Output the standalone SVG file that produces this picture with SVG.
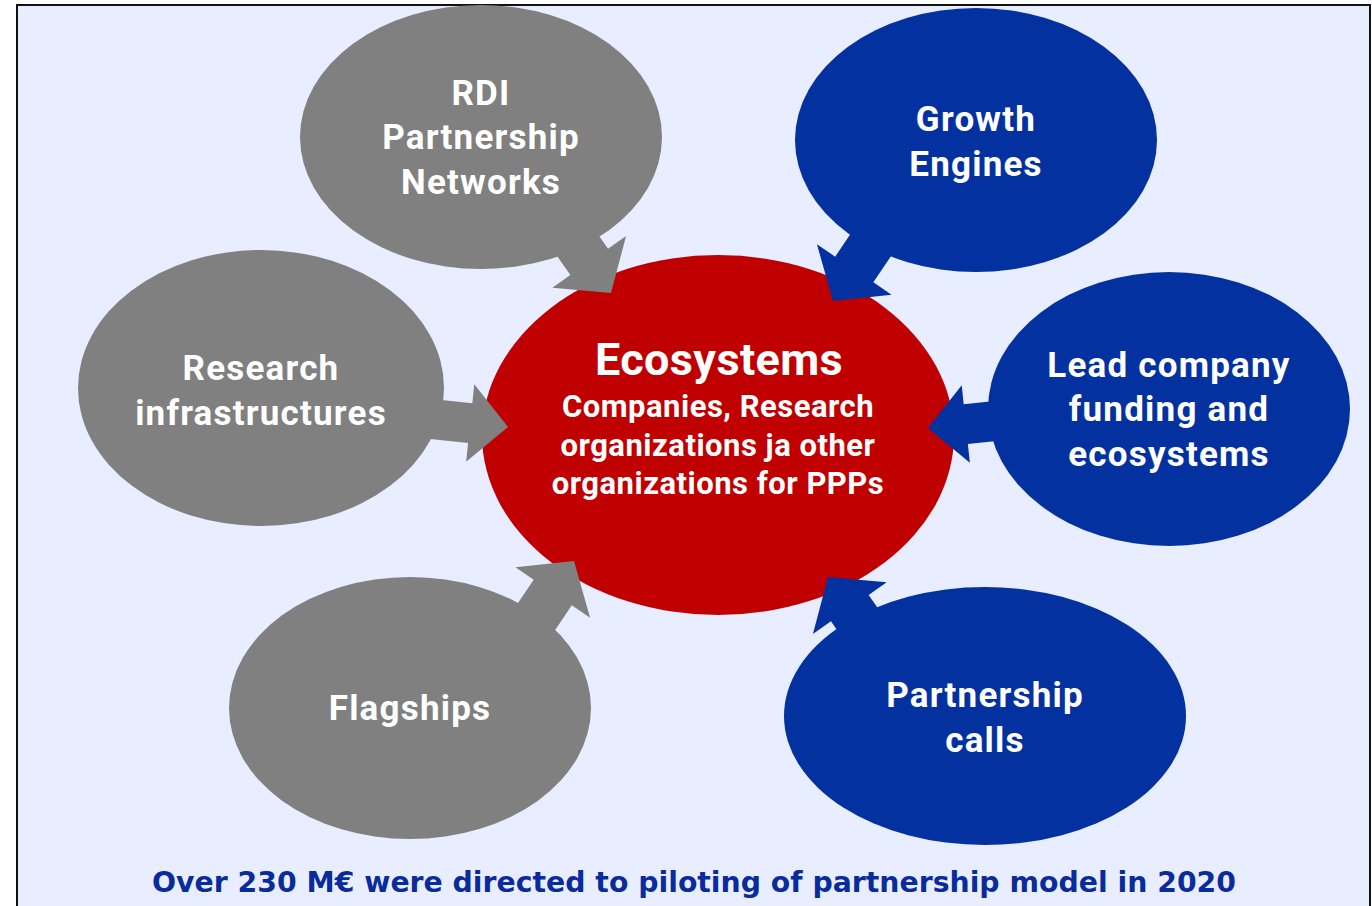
<svg xmlns="http://www.w3.org/2000/svg" width="1372" height="906" viewBox="0 0 1372 906">
<defs>
<style>
.gray{fill:#808080}
.blue{fill:#0332a0}
.red{fill:#c00000}
.t{font-family:Roboto,"Liberation Sans",sans-serif;font-weight:700;fill:#ffffff;text-anchor:middle}
.n{font-size:35px;letter-spacing:1.2px}
.c{font-size:31px;letter-spacing:0.5px}
</style>
</defs>
<rect x="0" y="0" width="1372" height="906" fill="#ffffff"/>
<rect x="17" y="5" width="1353" height="915" fill="#e8eeff" stroke="#111" stroke-width="2"/>

<g id="ecosystems">
<ellipse class="red" cx="718" cy="435" rx="236" ry="180"/>
<text class="t" x="719" y="375" font-size="45" letter-spacing="0.4">Ecosystems</text>
<text class="t c" x="718" y="417">Companies, Research</text>
<text class="t c" x="718" y="456">organizations ja other</text>
<text class="t c" x="718" y="494">organizations for PPPs</text>
</g>

<g id="connectors">
<polygon class="gray" transform="translate(611,293) rotate(55)" points="0,0 -38,-45 -38,-23 -140,-23 -140,23 -38,23 -38,45"/>
<polygon class="blue" transform="translate(833,301) rotate(124)" points="0,0 -38,-45 -38,-23 -140,-23 -140,23 -38,23 -38,45"/>
<polygon class="gray" transform="translate(508,427) rotate(6)" points="0,0 -38,-39 -38,-20 -140,-20 -140,20 -38,20 -38,39"/>
<polygon class="blue" transform="translate(928,428) rotate(174)" points="0,0 -38,-39 -38,-20 -140,-20 -140,20 -38,20 -38,39"/>
<polygon class="gray" transform="translate(574,561) rotate(-56)" points="0,0 -38,-45 -38,-23 -140,-23 -140,23 -38,23 -38,45"/>
<polygon class="blue" transform="translate(828,577) rotate(235)" points="0,0 -38,-45 -38,-23 -140,-23 -140,23 -38,23 -38,45"/>
</g>

<g id="rdi">
<ellipse class="gray" cx="481" cy="137" rx="181" ry="132"/>
<text class="t n" x="481" y="105">RDI</text>
<text class="t n" x="481" y="149">Partnership</text>
<text class="t n" x="481" y="194">Networks</text>
</g>

<g id="growth">
<ellipse class="blue" cx="976" cy="140" rx="181" ry="132"/>
<text class="t n" x="976" y="131">Growth</text>
<text class="t n" x="976" y="176">Engines</text>
</g>

<g id="research">
<ellipse class="gray" cx="261" cy="388" rx="183" ry="138"/>
<text class="t n" x="261" y="380">Research</text>
<text class="t n" x="261" y="425">infrastructures</text>
</g>

<g id="lead">
<ellipse class="blue" cx="1169" cy="409" rx="181" ry="137"/>
<text class="t n" x="1169" y="377">Lead company</text>
<text class="t n" x="1169" y="421">funding and</text>
<text class="t n" x="1169" y="466">ecosystems</text>
</g>

<g id="flagships">
<ellipse class="gray" cx="410" cy="708" rx="181" ry="131"/>
<text class="t n" x="410" y="720">Flagships</text>
</g>

<g id="calls">
<ellipse class="blue" cx="985" cy="716" rx="201" ry="129"/>
<text class="t n" x="985" y="707">Partnership</text>
<text class="t n" x="985" y="752">calls</text>
</g>

<text x="694" y="892" font-family="'DejaVu Sans',Verdana,sans-serif" font-weight="700" font-size="28" fill="#0a2b9b" text-anchor="middle" textLength="1084" lengthAdjust="spacingAndGlyphs">Over 230 M€ were directed to piloting of partnership model in 2020</text>
</svg>
